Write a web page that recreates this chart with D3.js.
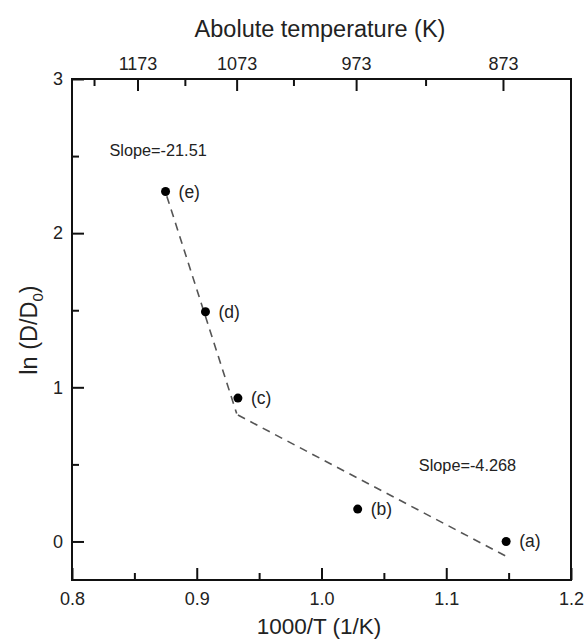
<!DOCTYPE html>
<html><head><meta charset="utf-8">
<script src="https://cdn.jsdelivr.net/npm/d3@7"></script>
<style>body{margin:0;background:#fff}svg{display:block}text{font-family:"Liberation Sans",Arial,sans-serif;fill:#222}</style>
</head><body><svg id="c" width="586" height="639"></svg>
<script>
// data
const pointLabels = ["(a)","(b)","(c)","(d)","(e)"];
const invT = [1.148, 1.029, 0.933, 0.907, 0.875];
const lnD = [0.0, 0.21, 0.93, 1.49, 2.27];
const fit1X = [0.876, 0.932];
const fit1Y = [2.24, 0.83];
const fit2X = [0.933, 1.149];
const fit2Y = [0.82, -0.10];
const slopeLabels = ["Slope=-21.51", "Slope=-4.268"];
const slopePosX = [0.83, 1.078];
const slopePosY = [2.5, 0.46];
const xMajor = [0.8, 0.9, 1.0, 1.1, 1.2];
const xMinor = [0.85, 0.95, 1.05, 1.15];
const yMajor = [0, 1, 2, 3];
const yMinor = [0.5, 1.5, 2.5];
const tempMajor = [1173, 1073, 973, 873];
const tempMinor = [1223, 1123, 1023, 923];

const svg = d3.select("#c");
const L = 72, R = 571, T = 79, B = 580;
const x = d3.scaleLinear().domain([0.8, 1.2]).range([L, R]);
const y = d3.scaleLinear().domain([-0.25, 3]).range([B, T]);

// frame
svg.append("rect").attr("x", L).attr("y", T).attr("width", R - L).attr("height", B - T)
  .attr("fill", "none").attr("stroke", "#111").attr("stroke-width", 2);

// bottom axis (inward ticks)
const gB = svg.append("g").attr("transform", `translate(0,${B})`);
gB.call(d3.axisBottom(x).tickValues(xMajor).tickSize(-12).tickFormat(d3.format(".1f")));
gB.append("g").call(d3.axisBottom(x).tickValues(xMinor).tickSize(-7).tickFormat(""));
// left axis
const gL = svg.append("g").attr("transform", `translate(${L},0)`);
gL.call(d3.axisLeft(y).tickValues(yMajor).tickSize(-12).tickFormat(d3.format("d")));
gL.append("g").call(d3.axisLeft(y).tickValues(yMinor).tickSize(-7).tickFormat(""));
// top axis (temperature)
const gT = svg.append("g").attr("transform", `translate(0,${T})`);
gT.call(d3.axisTop(x).tickValues(tempMajor.map(t => 1000 / t)).tickSize(-12)
  .tickFormat((d, i) => tempMajor[i]));
gT.append("g").call(d3.axisTop(x).tickValues(tempMinor.map(t => 1000 / t)).tickSize(-7).tickFormat(""));

svg.selectAll(".domain").remove();
svg.selectAll(".tick line").attr("stroke", "#111").attr("stroke-width", 2);
svg.selectAll("g").attr("font-size", 18).attr("font-family", '"Liberation Sans",Arial,sans-serif');
svg.selectAll(".tick text").attr("font-size", 18).attr("fill", "#222");
gB.selectAll(".tick text").attr("y", 3).attr("dy", 22);
gL.selectAll(".tick text").attr("x", -9);
gT.selectAll(".tick text").attr("y", -3).attr("dy", -6);

// titles
svg.append("text").attr("x", 320).attr("y", 37).attr("text-anchor", "middle")
  .attr("font-size", 23.5).text("Abolute temperature (K)");
svg.append("text").attr("x", 319).attr("y", 634).attr("text-anchor", "middle")
  .attr("font-size", 22.5).text("1000/T (1/K)");
const yl = svg.append("text").attr("transform", "translate(37,330) rotate(-90)")
  .attr("text-anchor", "middle").attr("font-size", 23.5);
yl.append("tspan").text("ln (D/D");
yl.append("tspan").attr("font-size", 15).attr("dy", 6).text("0");
yl.append("tspan").attr("dy", -6).text(")");

// fit lines
const line = d3.line().x(d => x(d[0])).y(d => y(d[1]));
[[fit1X, fit1Y], [fit2X, fit2Y]].forEach(([fx, fy]) => {
  svg.append("path").datum(fx.map((v, i) => [v, fy[i]])).attr("d", line)
    .attr("fill", "none").attr("stroke", "#555").attr("stroke-width", 1.6)
    .attr("stroke-dasharray", "8,6");
});

// points
svg.selectAll("circle.pt").data(invT).enter().append("circle").attr("class", "pt")
  .attr("cx", d => x(d)).attr("cy", (d, i) => y(lnD[i])).attr("r", 4.5).attr("fill", "#000");
svg.selectAll("text.pl").data(pointLabels).enter().append("text").attr("class", "pl")
  .attr("x", (d, i) => x(invT[i]) + 13).attr("y", (d, i) => y(lnD[i]) + 6)
  .attr("font-size", 17.5).text(d => d);

// slope labels
svg.selectAll("text.sl").data(slopeLabels).enter().append("text").attr("class", "sl")
  .attr("x", (d, i) => x(slopePosX[i])).attr("y", (d, i) => y(slopePosY[i]))
  .attr("font-size", 16.3).text(d => d);
</script></body></html>
